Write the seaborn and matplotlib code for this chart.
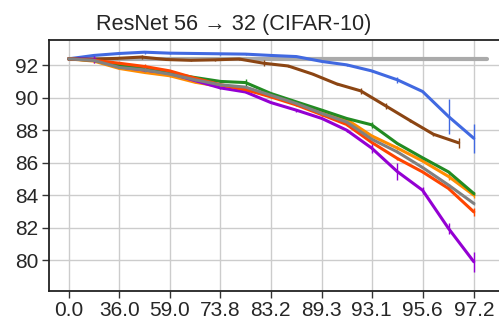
import numpy as np
import pandas as pd
import matplotlib
matplotlib.use("Agg")
import matplotlib.pyplot as plt
import seaborn as sns

# ---- data ----
title = "ResNet 56 \u2192 32 (CIFAR-10)"
sparsity = [0.0, 20.0, 36.0, 48.8, 59.0, 67.2, 73.8, 79.0, 83.2, 86.6,
            89.3, 91.4, 93.1, 94.5, 95.6, 96.5, 97.2]
sparsity_brown = [0.0, 19.4, 34.9, 47.5, 57.7, 65.9, 72.5, 77.8, 82.1, 85.6,
                  88.4, 90.6, 92.4, 93.9, 95.1, 96.0, 96.8]
tick_labels = ["0.0", "36.0", "59.0", "73.8", "83.2", "89.3", "93.1", "95.6", "97.2"]
tick_sparsity = [0.0, 36.0, 59.0, 73.8, 83.2, 89.3, 93.1, 95.6, 97.2]

baseline_value = 92.37
baseline_sparsity = [0.0, 97.5]

blue = [92.39, 92.6, 92.72, 92.8, 92.74, 92.72, 92.7, 92.68, 92.6, 92.53,
        92.23, 92.02, 91.65, 91.1, 90.38, 88.84, 87.5]
blue_err = [0.05, 0.1, 0.05, 0.1, 0.05, 0.05, 0.05, 0.05, 0.05, 0.05,
            0.05, 0.05, 0.05, 0.2, 0.05, 1.1, 0.9]
brown = [92.39, 92.37, 92.42, 92.5, 92.35, 92.3, 92.33, 92.38, 92.12, 91.95,
         91.45, 90.85, 90.42, 89.5, 88.58, 87.75, 87.22]
brown_err = [0.1, 0.1, 0.05, 0.1, 0.05, 0.05, 0.05, 0.05, 0.2, 0.05,
             0.05, 0.05, 0.2, 0.2, 0.1, 0.1, 0.3]
purple = [92.39, 92.35, 91.9, 91.7, 91.5, 91.05, 90.6, 90.35, 89.7, 89.23,
          88.72, 88.0, 86.9, 85.45, 84.3, 81.95, 79.9]
purple_err = [0.1, 0.2, 0.05, 0.05, 0.05, 0.05, 0.05, 0.05, 0.05, 0.1,
              0.05, 0.1, 0.3, 0.5, 0.2, 0.35, 0.6]
green = [92.39, 92.3, 92.02, 91.77, 91.5, 91.24, 91.0, 90.93, 90.26, 89.74,
         89.23, 88.72, 88.33, 87.18, 86.3, 85.43, 84.1]
green_err = [0.05, 0.05, 0.05, 0.15, 0.05, 0.05, 0.05, 0.25, 0.05, 0.05,
             0.1, 0.05, 0.2, 0.05, 0.05, 0.05, 0.1]
orange = [92.39, 92.25, 91.8, 91.55, 91.35, 90.95, 90.69, 90.5, 90.1, 89.6,
          89.1, 88.66, 87.65, 86.9, 86.1, 85.15, 84.0]
orange_err = [0.05, 0.1, 0.05, 0.05, 0.1, 0.05, 0.05, 0.05, 0.05, 0.05,
              0.2, 0.05, 0.05, 0.1, 0.05, 0.2, 0.2]
red = [92.39, 92.3, 92.12, 91.92, 91.65, 91.2, 90.8, 90.5, 90.05, 89.55,
       88.95, 88.35, 87.25, 86.26, 85.43, 84.41, 82.97]
red_err = [0.05, 0.05, 0.05, 0.15, 0.05, 0.1, 0.05, 0.05, 0.05, 0.05,
           0.05, 0.1, 0.05, 0.1, 0.05, 0.1, 0.25]
gray = [92.39, 92.29, 91.86, 91.71, 91.45, 91.1, 90.79, 90.65, 90.15, 89.64,
        89.03, 88.5, 87.45, 86.66, 85.7, 84.62, 83.49]
gray_err = [0.05, 0.05, 0.05, 0.1, 0.05, 0.05, 0.05, 0.05, 0.05, 0.05,
            0.05, 0.05, 0.05, 0.05, 0.05, 0.05, 0.1]

series = [
    ("blue", sparsity, blue, blue_err, "#4169E1"),
    ("brown", sparsity_brown, brown, brown_err, "#8B4513"),
    ("orange", sparsity, orange, orange_err, "#FF8C00"),
    ("purple", sparsity, purple, purple_err, "#9400D3"),
    ("green", sparsity, green, green_err, "#228B22"),
    ("red", sparsity, red, red_err, "#FF4500"),
    ("gray", sparsity, gray, gray_err, "#808080"),
]


def to_x(s):
    return -np.log(1.0 - np.asarray(s, dtype=float) / 100.0)


sns.set_style("whitegrid", {"axes.edgecolor": "#222222"})
plt.rcParams["font.family"] = ["Liberation Sans", "DejaVu Sans"]

fig = plt.figure(figsize=(4.99, 3.20), dpi=100)
ax = fig.add_axes([48.5 / 499, 29 / 320, 470 / 499, 251 / 320])

# baseline
bdf = pd.DataFrame({"x": to_x(baseline_sparsity), "y": [baseline_value] * 2})
sns.lineplot(data=bdf, x="x", y="y", ax=ax, color="#AAAAAA", linewidth=3.0,
             estimator=None, sort=False)

for name, sp, vals, errs, col in series:
    df = pd.DataFrame({"x": to_x(sp), "y": vals, "e": errs})
    sns.lineplot(data=df, x="x", y="y", ax=ax, color=col, linewidth=2.2,
                 estimator=None, sort=False)
    ax.errorbar(df["x"], df["y"], yerr=df["e"], fmt="none", ecolor=col,
                elinewidth=1.0, capsize=0)

ax.set_xticks(to_x(tick_sparsity))
ax.set_xticklabels(tick_labels)
ax.set_yticks([80, 82, 84, 86, 88, 90, 92])
ax.set_xlim(-0.178, 3.97)
ax.set_ylim(78.1, 93.55)
ax.set_xlabel("")
ax.set_ylabel("")
ax.set_title(title, fontsize=15.6, pad=7, x=(233 - 48) / 470)
ax.tick_params(axis="both", labelsize=15, length=5, width=1, color="#333333",
               direction="out", bottom=True, left=True, pad=2.5)
ax.grid(True, color="#CCCCCC", linewidth=1.0)
for side in ["left", "bottom", "top"]:
    ax.spines[side].set_visible(True)
    ax.spines[side].set_edgecolor("#222222")
    ax.spines[side].set_linewidth(1.3)
    ax.spines[side].set_zorder(5)
ax.spines["right"].set_visible(False)

fig.savefig("out.png", dpi=100)
